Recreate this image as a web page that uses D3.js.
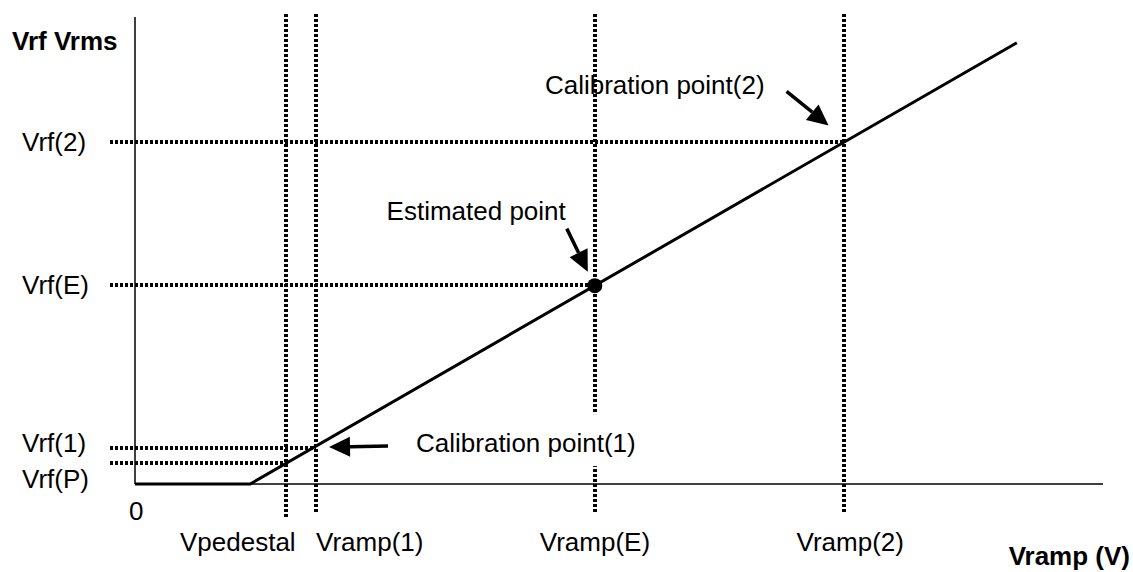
<!DOCTYPE html>
<html>
<head>
<meta charset="utf-8">
<script src="https://cdn.jsdelivr.net/npm/d3@7"></script>
<style>
  body { margin: 0; background: #fff; }
  text { font-family: "Liberation Sans", Arial, sans-serif; font-size: 26px; fill: #000; }
  .bold { font-weight: bold; }
</style>
</head>
<body>
<div id="chart"></div>
<script>

// response curve (Vramp, Vrf) in arbitrary units
var responseX = [0, 11.9, 91.1];
var responseY = [0, 0, 94.5];

// vertical markers on the Vramp axis
var markerNames = ["Vpedestal", "Vramp(1)", "Vramp(E)", "Vramp(2)"];
var markerX = [15.6, 18.7, 47.5, 73.2];

// horizontal levels on the Vrf axis (each one runs to the marker with same index)
var levelNames = ["Vrf(P)", "Vrf(1)", "Vrf(E)", "Vrf(2)"];
var levelY = [4.5, 7.7, 42.6, 73.2];

// annotations: label + index of the marker it points at
var noteLabels = ["Calibration point(1)", "Estimated point", "Calibration point(2)"];
var noteTarget = [1, 2, 3];

var width = 1133, height = 572;

var x = d3.scaleLinear().domain([0, 100]).range([135, 1103]);
var y = d3.scaleLinear().domain([0, 100]).range([484, 17]);

// snap dotted lines to whole pixels so the dots stay crisp
function px(v) { return Math.round(v); }

var svg = d3.select("#chart")
  .append("svg")
  .attr("width", width)
  .attr("height", height);

// axes
svg.append("line")
  .attr("x1", x(0)).attr("x2", x(0))
  .attr("y1", y(0)).attr("y2", y(100))
  .attr("stroke", "#000").attr("stroke-width", 1.5);
svg.append("line")
  .attr("x1", x(0)).attr("x2", x(100))
  .attr("y1", y(0)).attr("y2", y(0))
  .attr("stroke", "#000").attr("stroke-width", 1.5);

var dots = "3 2";

// vertical dotted markers
svg.selectAll(".vmark")
  .data(markerX)
  .enter().append("line")
  .attr("class", "vmark")
  .attr("x1", function(d) { return px(x(d)); })
  .attr("x2", function(d) { return px(x(d)); })
  .attr("y1", y(100) - 3)
  .attr("y2", function(d, i) { return i == 0 ? y(0) + 33 : y(0) + 29; })
  .attr("stroke", "#000")
  .attr("stroke-width", 4)
  .attr("stroke-dasharray", dots)
  .attr("shape-rendering", "crispEdges");

// horizontal dotted levels
svg.selectAll(".hlevel")
  .data(levelY)
  .enter().append("line")
  .attr("class", "hlevel")
  .attr("x1", x(0) - 25)
  .attr("x2", function(d, i) { return x(markerX[i]); })
  .attr("y1", function(d) { return px(y(d)); })
  .attr("y2", function(d) { return px(y(d)); })
  .attr("stroke", "#000")
  .attr("stroke-width", 4)
  .attr("stroke-dasharray", dots)
  .attr("shape-rendering", "crispEdges");

// response line
var line = d3.line()
  .x(function(d) { return x(d[0]); })
  .y(function(d) { return y(d[1]); });

svg.append("path")
  .datum(d3.zip(responseX, responseY))
  .attr("d", line)
  .attr("fill", "none")
  .attr("stroke", "#000")
  .attr("stroke-width", 3);

// estimated point
var slope = (responseY[2] - responseY[1]) / (responseX[2] - responseX[1]);
function curveAt(v) { return Math.max(0, (v - responseX[1]) * slope); }

svg.append("circle")
  .attr("cx", x(markerX[2]))
  .attr("cy", y(curveAt(markerX[2])))
  .attr("r", 7.5)
  .attr("fill", "#000");

// y level labels
var levelLabelDy = [25, 4, 9, 9];
svg.selectAll(".ylab")
  .data(levelNames)
  .enter().append("text")
  .attr("class", "ylab")
  .attr("x", 22)
  .attr("y", function(d, i) { return y(levelY[i]) + levelLabelDy[i]; })
  .text(function(d) { return d; });

// x marker labels
var markerLabelDx = [-106, 0, -55, -47];
svg.selectAll(".xlab")
  .data(markerNames)
  .enter().append("text")
  .attr("class", "xlab")
  .attr("x", function(d, i) { return x(markerX[i]) + markerLabelDx[i]; })
  .attr("y", y(0) + 67)
  .text(function(d) { return d; });

svg.append("text")
  .attr("x", x(0) - 6)
  .attr("y", y(0) + 36)
  .text("0");

svg.append("text").attr("class", "bold")
  .attr("x", 12).attr("y", 50)
  .text("Vrf Vrms");

svg.append("text").attr("class", "bold")
  .attr("x", 1130).attr("y", 565)
  .attr("text-anchor", "end")
  .text("Vramp (V)");

// annotations: arrow tip / tail and label offsets from target (pixels)
var arrowTip = [[13, 1], [-7, -14], [-15, -17]];
var arrowTail = [[72, 0], [-28, -57], [-57, -51]];
var labelPos = [[100, 6, "start"], [-29, -66, "end"], [-79, -48, "end"]];

noteLabels.forEach(function(lab, i) {
  var m = markerX[noteTarget[i]];
  var tx = x(m), ty = y(curveAt(m));
  var tip = [tx + arrowTip[i][0], ty + arrowTip[i][1]];
  var tail = [tx + arrowTail[i][0], ty + arrowTail[i][1]];
  var ang = Math.atan2(tip[1] - tail[1], tip[0] - tail[0]);
  var hl = 21, hw = 10;
  var bx = tip[0] - hl * Math.cos(ang), by = tip[1] - hl * Math.sin(ang);
  var ox = -Math.sin(ang) * hw, oy = Math.cos(ang) * hw;

  var g = svg.append("g");
  var t = g.append("text")
    .attr("x", tx + labelPos[i][0])
    .attr("y", ty + labelPos[i][1])
    .attr("text-anchor", labelPos[i][2])
    .text(lab);
  if (i == 0) {
    // label box hides the dotted line behind it
    var bb = t.node().getBBox();
    g.insert("rect", "text")
      .attr("x", bb.x - 2).attr("y", bb.y - 14)
      .attr("width", bb.width + 4).attr("height", bb.height + 22)
      .attr("fill", "#fff");
  }
  g.append("line")
    .attr("x1", tail[0]).attr("y1", tail[1])
    .attr("x2", bx).attr("y2", by)
    .attr("stroke", "#000").attr("stroke-width", 3.5);
  g.append("path")
    .attr("d", "M" + tip + "L" + [bx + ox, by + oy] + "L" + [bx - ox, by - oy] + "Z")
    .attr("fill", "#000");
});

</script>
</body>
</html>
